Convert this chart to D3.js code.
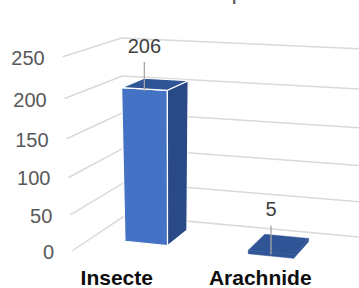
<!DOCTYPE html>
<html>
<head>
<meta charset="utf-8">
<script src="https://cdn.jsdelivr.net/npm/d3@7"></script>
<style>
  html, body { margin: 0; padding: 0; background: #fff; }
  svg { display: block; font-family: "Liberation Sans", Arial, sans-serif; }
</style>
</head>
<body>
<div id="graphique"></div>
<script>
const categories = ["Insecte", "Arachnide"];
const valeurs = [206, 5];
const ticks = [0, 50, 100, 150, 200, 250];
const titre = "Nombre d'espèces";

const largeur = 359, hauteur = 288;

// camera (perspective Excel 3D)
const rad = Math.PI / 180;
const lacet = 19.5 * rad, tangage = 32.7 * rad;
const focale = 1104;
const centreX = 170, centreY = 584;
const origineX = 72, origineY = 251;
const recul = 1000;

const ex = [Math.cos(lacet), Math.sin(lacet) * Math.sin(tangage), -Math.sin(lacet) * Math.cos(tangage)];
const ey = [0, -Math.cos(tangage), -Math.sin(tangage)];
const ez = [Math.sin(lacet), -Math.cos(lacet) * Math.sin(tangage), Math.cos(lacet) * Math.cos(tangage)];
const T = [(origineX - centreX) / focale * recul, (origineY - centreY) / focale * recul, recul];

const versCamera = ([X, Y, Z]) => [0, 1, 2].map(i => T[i] + X * ex[i] + Y * ey[i] + Z * ez[i]);
const projeter = p => {
    const c = versCamera(p);
    return [centreX + focale * c[0] / c[2], centreY + focale * c[1] / c[2]];
};

// échelles du monde 3D
const largeurMonde = 238, profondeurMonde = 132;
const x = d3.scaleBand().domain(categories).range([0, largeurMonde])
    .paddingInner(0.647).paddingOuter(0.3235).align(0.44);
const y = d3.scaleLinear().domain([0, 250]).range([0, 160]);
const z = d3.scaleLinear().domain([0, 1]).range([0, profondeurMonde]);
const profondeurBarre = [0.34, 0.76];

// étiquettes de catégories (placées à plat sous le graphique)
const xTexte = d3.scaleBand().domain(categories).range([45, 332]);

const $svg = d3.select("#graphique").append("svg")
    .attr("width", largeur)
    .attr("height", hauteur);

const ligne = d3.line();

// titre (coupé en haut)
$svg.append("text")
    .attr("x", 196)
    .attr("y", -1)
    .attr("text-anchor", "middle")
    .attr("font-size", 24)
    .attr("fill", "#595959")
    .text(titre);

// quadrillage : mur gauche puis mur du fond
const grille = $svg.append("g")
    .attr("fill", "none")
    .attr("stroke", "#d9d9d9")
    .attr("stroke-width", 1.5);
ticks.forEach(t => {
    grille.append("path").attr("d", ligne([
        projeter([0, y(t), z(0)]),
        projeter([0, y(t), z(1)]),
        projeter([largeurMonde, y(t), z(1)])
    ]));
});

// graduations
$svg.append("g").selectAll("text")
    .data(ticks)
    .join("text")
    .attr("x", d => projeter([0, y(d), 0])[0] - 18)
    .attr("y", d => projeter([0, y(d), 0])[1] + 1)
    .attr("dy", "0.35em")
    .attr("text-anchor", "end")
    .attr("font-size", 20)
    .attr("fill", "#595959")
    .text(d => d);

// barres en 3D
const faces = (x0, x1, y0, y1, z0, z1) => [
    { n: ez.map(v => -v), pts: [[x0, y0, z0], [x1, y0, z0], [x1, y1, z0], [x0, y1, z0]], couleur: "#4472c4" },
    { n: ez, pts: [[x0, y0, z1], [x1, y0, z1], [x1, y1, z1], [x0, y1, z1]], couleur: "#2f5597" },
    { n: ex.map(v => -v), pts: [[x0, y0, z0], [x0, y0, z1], [x0, y1, z1], [x0, y1, z0]], couleur: "#294a87" },
    { n: ex, pts: [[x1, y0, z0], [x1, y0, z1], [x1, y1, z1], [x1, y1, z0]], couleur: "#294a87" },
    { n: ey, pts: [[x0, y1, z0], [x1, y1, z0], [x1, y1, z1], [x0, y1, z1]], couleur: "#2f5597" },
    { n: ey.map(v => -v), pts: [[x0, y0, z0], [x1, y0, z0], [x1, y0, z1], [x0, y0, z1]], couleur: "#2f5597" }
];

const barres = categories.map((c, i) => {
    const x0 = x(c), x1 = x(c) + x.bandwidth();
    const z0 = z(profondeurBarre[0]), z1 = z(profondeurBarre[1]);
    return { c, v: valeurs[i], x0, x1, z0, z1, prof: versCamera([(x0 + x1) / 2, 0, (z0 + z1) / 2])[2] };
}).sort((a, b) => b.prof - a.prof);

const gBarres = $svg.append("g");
barres.forEach(b => {
    const g = gBarres.append("g");
    // barre très basse : pas de liseré blanc, seulement le dessus
    const plate = y(b.v) < 6;
    faces(b.x0, b.x1, 0, y(b.v), b.z0, b.z1).forEach(f => {
        const centre = [0, 1, 2].map(i => d3.mean(f.pts, p => p[i]));
        const c = versCamera(centre);
        const visible = c[0] * f.n[0] + c[1] * f.n[1] + c[2] * f.n[2] < 0;
        if (!visible) return;
        g.append("path")
            .attr("d", ligne(f.pts.map(projeter)) + "Z")
            .attr("fill", plate ? "#2f5597" : f.couleur)
            .attr("stroke", plate ? "#2f5597" : "#fff")
            .attr("stroke-width", plate ? 0.5 : 1.2)
            .attr("stroke-linejoin", "round");
    });
});

// étiquettes de données avec ligne de rappel
const decalage = 36;
barres.forEach(b => {
    const ancre = projeter([(b.x0 + b.x1) / 2, y(b.v), b.z0]);
    $svg.append("line")
        .attr("x1", ancre[0]).attr("x2", ancre[0])
        .attr("y1", ancre[1] - decalage + 9).attr("y2", ancre[1] + 2)
        .attr("stroke", "#a6a6a6")
        .attr("stroke-width", 1.3);
    $svg.append("text")
        .attr("x", ancre[0])
        .attr("y", ancre[1] - decalage)
        .attr("text-anchor", "middle")
        .attr("font-size", 20)
        .attr("fill", "#404040")
        .text(b.v);
});

// étiquettes de catégories
$svg.append("g").selectAll("text")
    .data(categories)
    .join("text")
    .attr("x", d => xTexte(d) + xTexte.bandwidth() / 2)
    .attr("y", 285)
    .attr("text-anchor", "middle")
    .attr("font-size", 21)
    .attr("font-weight", "bold")
    .attr("fill", "#0d0d0d")
    .text(d => d);
</script>
</body>
</html>
